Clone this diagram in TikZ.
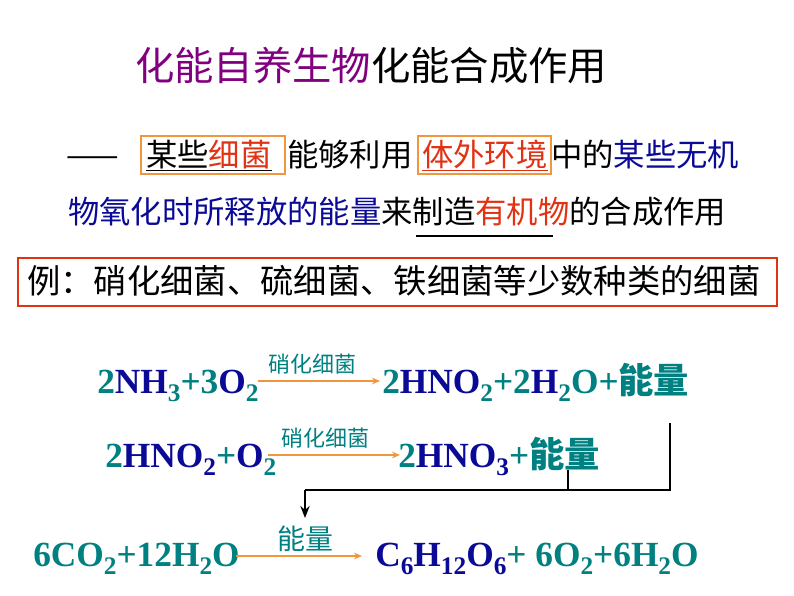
\documentclass[tikz,border=0pt]{standalone}
\usepackage{fontspec}
\setmainfont{Liberation Serif}
\newfontfamily\cjk{Noto Sans CJK SC}
\usetikzlibrary{arrows.meta}
\definecolor{tl}{RGB}{0,128,128}
\definecolor{db}{RGB}{10,10,150}
\definecolor{rd}{RGB}{225,50,20}
\definecolor{pp}{RGB}{128,0,128}
\definecolor{org}{RGB}{240,150,60}
\newcommand\sbs[1]{\raisebox{-0.55ex}{\fontsize{19}{19}\selectfont #1}}
\tikzset{
 txt/.style={anchor=base west,inner sep=0pt,font=\cjk\fontsize{23.5}{24}\selectfont},
 chem/.style={anchor=base west,inner sep=0pt,font=\bfseries\fontsize{26.5}{27}\selectfont,text=tl},
 lab/.style={anchor=base,inner sep=0pt,font=\cjk\fontsize{16.5}{17}\selectfont,text=tl},
 rarr/.style={draw=org,line width=1.2pt,-{Stealth[length=6pt,width=5pt]}},
 obox/.style={draw=org,line width=1.5pt},
 conn/.style={line width=1.8pt,black}
}
\begin{document}
\begin{tikzpicture}[x=0.75pt,y=-0.75pt]
\useasboundingbox (0,0) rectangle (794,596);
\node[txt,font=\cjk\fontsize{29.5}{30}\selectfont] (title) at (135,80) {\textcolor{pp}{化能自养生物}化能合成作用};
\node[txt] (d1) at (66,166) {——};
\node[txt] (t1) at (146,166) {\underline{某些\textcolor{rd}{细菌}}};
\node[txt] (t2) at (287,166) {能够利用};
\node[txt] (t3) at (422,166) {\textcolor{rd}{\underline{体外环境}}};
\node[txt] (t4) at (551,166) {中的\textcolor{db}{某些无机}};
\draw[obox] (141,136) rectangle (285,174);
\draw[obox] (418,136) rectangle (551,174);
\node[txt] (l2) at (68,223) {\textcolor{db}{物氧化时所释放的能量}来制造\textcolor{rd}{有机物}的合成作用};
\coordinate (u1) at (416,236); \coordinate (u2) at (553,236);
\draw[line width=1.5pt] (u1) -- (u2);
\draw[draw=rd,line width=1.5pt] (18,258) rectangle (777,306);
\node[txt,font=\cjk\fontsize{25}{26}\selectfont] (ex) at (27,293) {例：硝化细菌、硫细菌、铁细菌等少数种类的细菌};
% equation 1
\node[chem] (e1l) at (97,393) {2\textcolor{db}{NH}\sbs{3}+3\textcolor{db}{O}\sbs{2}};
\node[chem] (e1r) at (382,393) {2\textcolor{db}{HNO}\sbs{2}+2\textcolor{db}{H}\sbs{2}O+{\cjk 能量}};
\coordinate (a1s) at (258,381); \coordinate (a1e) at (380,381);
\draw[rarr] (a1s) -- (a1e);
\node[lab] (l1a) at (312,372) {硝化细菌};
% equation 2
\node[chem] (e2l) at (105,467) {2\textcolor{db}{HNO\sbs{2}}+\textcolor{db}{O}\sbs{2}};
\node[chem] (e2r) at (398,467) {2\textcolor{db}{HNO\sbs{3}}+{\cjk 能量}};
\coordinate (a2s) at (268,455); \coordinate (a2e) at (400,455);
\draw[rarr] (a2s) -- (a2e);
\node[lab] (l2a) at (325,446) {硝化细菌};
% connector
\coordinate (c1) at (670,423); \coordinate (c2) at (670,490);
\coordinate (c3) at (568,470); \coordinate (c4) at (568,490);
\coordinate (c5) at (305,490); \coordinate (c6) at (305,518);
\draw[conn] (c1) -- (c2) -- (c5);
\draw[conn] (c3) -- (c4);
\draw[conn,-{Stealth[length=9pt,width=7pt]}] (c5) -- (c6);
% equation 3
\node[chem] (e3l) at (33,566) {6CO\sbs{2}+12H\sbs{2}O};
\node[chem] (e3r) at (375,566) {\textcolor{db}{C\sbs{6}H\sbs{12}O\sbs{6}}+ 6O\sbs{2}+6H\sbs{2}O};
\coordinate (a3s) at (236,556); \coordinate (a3e) at (362,556);
\draw[rarr] (a3s) -- (a3e);
\node[lab,font=\cjk\fontsize{21}{22}\selectfont] (l3a) at (305,549) {能量};
\end{tikzpicture}
\end{document}
